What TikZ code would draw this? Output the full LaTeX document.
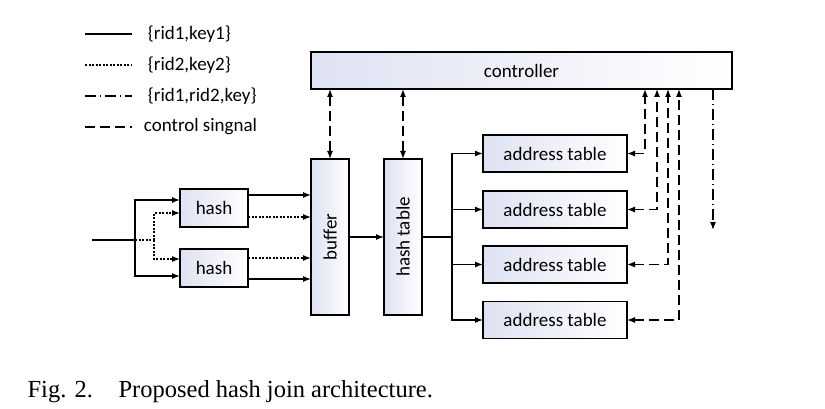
\documentclass[tikz,border=0pt]{standalone}
\usepackage{fontspec}
\setmainfont{Liberation Serif}
\newfontfamily\calibfont{Carlito}
\usetikzlibrary{arrows.meta}
\definecolor{boxfill}{RGB}{222,226,242}

\begin{document}
\begin{tikzpicture}[x=1pt,y=-1pt,>={Latex[length=8pt,width=6pt]},line width=1.2pt,
                    font=\calibfont\fontsize{19}{22}\selectfont]
  \tikzstyle{blk}=[draw,left color=boxfill,right color=white,inner sep=0pt,outer sep=0pt]
  \tikzstyle{key1}=[solid]
  \tikzstyle{key2}=[dash pattern=on 2pt off 1.5pt]
  \tikzstyle{rrk}=[dash pattern=on 11pt off 4pt on 1pt off 4pt]
  \tikzstyle{ctl}=[dash pattern=on 10pt off 5pt]

  \useasboundingbox (0,0) rectangle (825,409);

  \coordinate (k1) at (85,34);
  \coordinate (k2) at (85,65);
  \coordinate (k3) at (85,96);
  \coordinate (k4) at (85,127);
  \node[anchor=west] (l1) at (144,34) {\{rid1,key1\}};
  \node[anchor=west] (l2) at (144,65) {\{rid2,key2\}};
  \node[anchor=west] (l3) at (144,96) {\{rid1,rid2,key\}};
  \node[anchor=west] (l4) at (140,127) {control singnal};
  \draw[key1] (k1) -- ++(47,0);
  \draw[key2] (k2) -- ++(47,0);
  \draw[rrk] (k3) -- ++(47,0);
  \draw[ctl] (k4) -- ++(47,0);

  \node[blk,minimum width=421pt,minimum height=37pt] (ctrl) at (521.5,70.5) {controller};
  \node[blk,minimum width=68pt,minimum height=38pt] (hash1) at (214,208) {hash};
  \node[blk,minimum width=68pt,minimum height=38pt] (hash2) at (214,268) {hash};
  \node[blk,minimum width=38pt,minimum height=156pt] (buffer) at (330,237) {\rotatebox{90}{buffer}};
  \node[blk,minimum width=38pt,minimum height=156pt] (htab) at (403,237) {\rotatebox{90}{hash table}};
  \foreach \i/\y in {1/153.5,2/209.5,3/264.5,4/320}
    \node[blk,minimum width=144pt,minimum height=37pt] (addr\i) at (555,\y) {address table};

  \coordinate (in) at (92,240);
  \coordinate (sj) at (135,240);
  \coordinate (dj) at (154,240);
  \draw[key2] (sj) -- (dj);
  \draw[key2,->] (dj) |- ([yshift=-5pt]hash1.west);
  \draw[key2,->] (dj) |- ([yshift=9pt]hash2.west);
  \draw (in) -- (sj);
  \draw[->] (sj) |- ([yshift=8pt]hash1.west);
  \draw[->] (sj) |- ([yshift=-8pt]hash2.west);

  \draw[->] ([yshift=13pt]hash1.east) -- ([yshift=13pt]hash1.east -| buffer.west);
  \draw[key2,->] ([yshift=-9pt]hash1.east) -- ([yshift=-9pt]hash1.east -| buffer.west);
  \draw[key2,->] ([yshift=10pt]hash2.east) -- ([yshift=10pt]hash2.east -| buffer.west);
  \draw[->] ([yshift=-11pt]hash2.east) -- ([yshift=-11pt]hash2.east -| buffer.west);

  \draw[->] (buffer) -- (htab);
  \coordinate (br) at (452,237);
  \draw (htab.east) -- (br);
  \foreach \i in {1,...,4}
    \draw[->] (br) |- (addr\i.west);

  \draw[ctl,<->] (ctrl.south -| buffer) -- (buffer.north);
  \draw[ctl,<->] (ctrl.south -| htab) -- (htab.north);
  \foreach \i/\dx in {1/87,2/75,3/64,4/53}
    \draw[ctl,<->] (addr\i.east) -| ([xshift=-\dx pt]ctrl.south east);

  \coordinate (out) at (713,230);
  \draw[rrk,->] (out |- ctrl.south) -- (out);

  \node[anchor=base west,inner sep=0pt,font=\rmfamily\fontsize{24.5}{30}\selectfont] (fig) at (27,397) {Fig. 2.};
  \node[anchor=base west,inner sep=0pt,font=\rmfamily\fontsize{24.5}{30}\selectfont] (cap) at (118,397) {Proposed hash join architecture.};
\end{tikzpicture}
\end{document}
